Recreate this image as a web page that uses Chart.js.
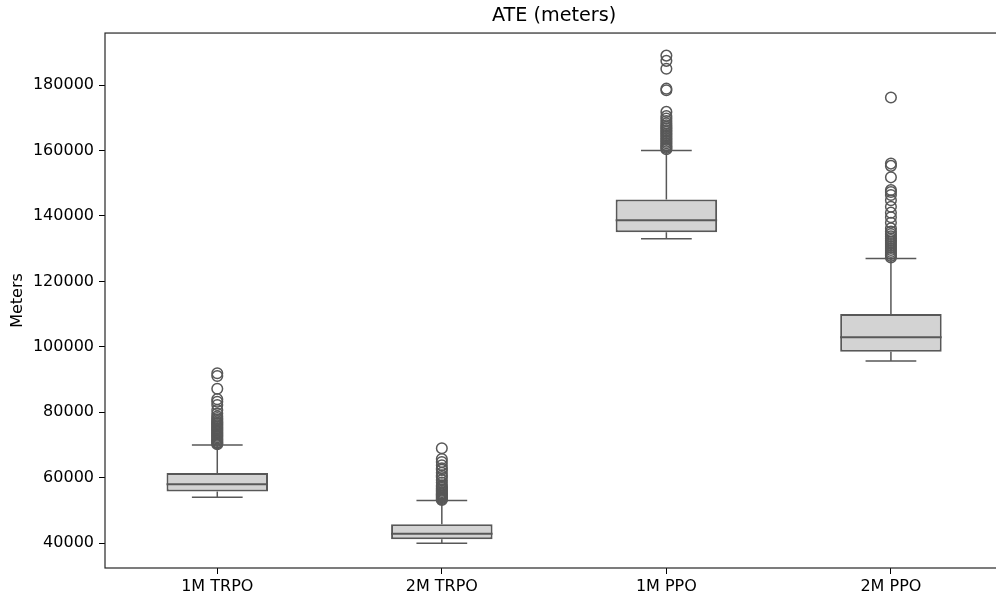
<!DOCTYPE html>
<html>
<head>
<meta charset="utf-8">
<script src="https://cdn.jsdelivr.net/npm/chart.js@4"></script>
<style>
html,body{margin:0;padding:0;background:#fff;overflow:hidden;width:996px;height:603px;}
#wrap{position:absolute;left:0;top:0;width:1010px;height:603px;}
</style>
</head>
<body>
<div id="wrap"><canvas id="c" width="1010" height="603"></canvas></div>
<script>
const categories = ['1M TRPO', '2M TRPO', '1M PPO', '2M PPO'];
const whiskerLow = [54000, 40000, 133000, 95700];
const q1 = [55800, 41200, 135000, 98500];
const median = [58000, 42900, 138700, 102900];
const q3 = [61400, 45800, 145000, 110000];
const whiskerHigh = [70000, 53000, 160000, 127000];
const outliers1MTRPO = [91900, 91100, 87200, 84000, 83200, 82200, 80700, 79600, 78800, 78200, 77700, 77200, 76800, 76400, 76000, 75600, 75200, 74800, 74400, 74000, 73600, 73200, 72800, 72400, 72000, 71600, 71200, 70800, 70500, 70200];
const outliers2MTRPO = [69000, 65700, 64800, 63800, 62900, 62400, 61500, 60700, 60200, 59300, 58500, 57700, 57200, 56800, 56400, 56000, 55600, 55200, 54900, 54600, 54300, 54000, 53700, 53400, 53200];
const outliers1MPPO = [189000, 187400, 185000, 178900, 178400, 171800, 170500, 169800, 169000, 168300, 167700, 167200, 166700, 166200, 165700, 165200, 164700, 164200, 163700, 163200, 162700, 162200, 161700, 161200, 160800, 160400];
const outliers2MPPO = [176200, 156000, 155300, 151800, 147900, 147300, 146400, 144800, 142800, 141000, 139600, 137900, 136200, 135200, 134500, 133800, 133200, 132600, 132000, 131400, 130800, 130200, 129600, 129000, 128400, 127800, 127300];
const yTicks = [40000, 60000, 80000, 100000, 120000, 140000, 160000, 180000];
const yMin = 32400, yMax = 195900;

const outlierLists = [outliers1MTRPO, outliers2MTRPO, outliers1MPPO, outliers2MPPO];
const outlierPoints = [];
outlierLists.forEach((list, i) => list.forEach(v => outlierPoints.push({x: categories[i], y: v})));

const LINE = '#585858';
const FONT = "'DejaVu Sans', sans-serif";

const boxPlugin = {
  id: 'boxParts',
  afterDatasetsDraw(chart) {
    const ctx = chart.ctx;
    const ys = chart.scales.y, xs = chart.scales.x;
    const meta = chart.getDatasetMeta(0);
    ctx.save();
    ctx.strokeStyle = LINE;
    ctx.lineWidth = 1.5;
    categories.forEach((c, i) => {
      const el = meta.data[i];
      const cx = xs.getPixelForValue(i);
      const w = el.width;
      const cap = w / 4;
      ctx.beginPath();
      ctx.moveTo(cx, ys.getPixelForValue(q3[i]));
      ctx.lineTo(cx, ys.getPixelForValue(whiskerHigh[i]));
      ctx.moveTo(cx, ys.getPixelForValue(q1[i]));
      ctx.lineTo(cx, ys.getPixelForValue(whiskerLow[i]));
      ctx.moveTo(cx - cap, ys.getPixelForValue(whiskerHigh[i]));
      ctx.lineTo(cx + cap, ys.getPixelForValue(whiskerHigh[i]));
      ctx.moveTo(cx - cap, ys.getPixelForValue(whiskerLow[i]));
      ctx.lineTo(cx + cap, ys.getPixelForValue(whiskerLow[i]));
      ctx.stroke();
      ctx.beginPath();
      ctx.lineWidth = 2;
      ctx.moveTo(cx - w / 2, ys.getPixelForValue(median[i]));
      ctx.lineTo(cx + w / 2, ys.getPixelForValue(median[i]));
      ctx.stroke();
      ctx.lineWidth = 1.5;
    });
    ctx.restore();
  },
  afterDraw(chart) {
    const a = chart.chartArea, ctx = chart.ctx;
    ctx.save();
    ctx.strokeStyle = '#262626';
    ctx.lineWidth = 1.2;
    ctx.strokeRect(a.left, a.top, a.right - a.left, a.bottom - a.top);
    ctx.restore();
  }
};

new Chart(document.getElementById('c'), {
  type: 'bar',
  data: {
    labels: categories,
    datasets: [
      {
        type: 'bar',
        data: q1.map((v, i) => [v, q3[i]]),
        backgroundColor: '#d3d3d3',
        borderColor: LINE,
        borderWidth: 2,
        borderSkipped: false,
        barPercentage: 0.452,
        categoryPercentage: 1,
        order: 2
      },
      {
        type: 'line',
        data: outlierPoints,
        showLine: false,
        pointStyle: 'circle',
        pointRadius: 5.3,
        pointBackgroundColor: 'rgba(0,0,0,0)',
        pointBorderColor: LINE,
        pointBorderWidth: 1.5,
        order: 1
      }
    ]
  },
  options: {
    responsive: false,
    animation: false,
    layout: {padding: {left: 0, right: 2, top: 0, bottom: 0}},
    plugins: {
      legend: {display: false},
      tooltip: {enabled: false},
      title: {
        display: true,
        fullSize: false,
        text: 'ATE (meters)',
        color: '#000',
        font: {family: FONT, size: 19.2, weight: 'normal'},
        padding: {top: 4, bottom: 6}
      }
    },
    scales: {
      x: {
        type: 'category',
        grid: {display: true, offset: false, drawOnChartArea: false, drawTicks: true, tickLength: 6, color: '#000', tickColor: '#000'},
        border: {display: false},
        ticks: {color: '#000', font: {family: FONT, size: 16}, padding: 3, maxRotation: 0},
        afterFit(s) { s.height = 35; }
      },
      y: {
        type: 'linear',
        min: yMin,
        max: yMax,
        grid: {display: true, drawOnChartArea: false, drawTicks: true, tickLength: 6, color: '#000', tickColor: '#000'},
        border: {display: false},
        afterBuildTicks(s) { s.ticks = yTicks.map(v => ({value: v})); },
        ticks: {color: '#000', font: {family: FONT, size: 16}, padding: 5, callback: v => String(v)},
        title: {display: true, text: 'Meters', color: '#000', font: {family: FONT, size: 16}, padding: {top: 8, bottom: 0}},
        afterFit(s) { s.width = 105; }
      }
    }
  },
  plugins: [boxPlugin]
});
</script>
</body>
</html>
